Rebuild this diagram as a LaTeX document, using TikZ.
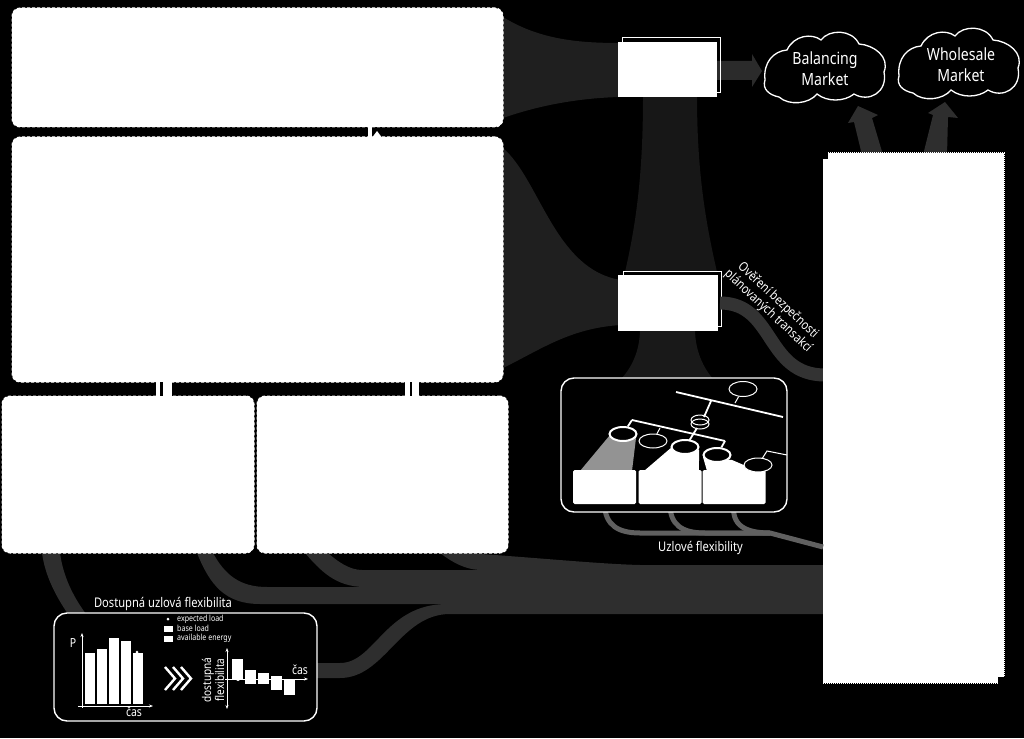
\documentclass[tikz,border=0pt]{standalone}
\usepackage{fontspec}
\setmainfont[FakeStretch=0.84]{Noto Sans}
\usetikzlibrary{arrows.meta, positioning, calc, shapes.geometric}

\tikzset{
  planbox/.style={fill=white, draw=white, densely dashed, line width=1pt, rounded corners=8pt, inner sep=0pt, outer sep=0pt},
  solidbox/.style={fill=white, inner sep=0pt, outer sep=0pt},
  stackbox/.style={draw=white, line width=1pt, inner sep=0pt, outer sep=0pt, minimum width=98pt, minimum height=55pt},
  sitebox/.style={fill=white, rounded corners=1.5pt, inner sep=0pt, outer sep=0pt, minimum width=63pt, minimum height=34pt},
  panelbox/.style={fill=black, draw=white, line width=1.4pt, rounded corners=13pt, inner sep=0pt, outer sep=0pt},
  busnode/.style={ellipse, draw=white, fill=black, line width=1pt, inner sep=0pt, minimum width=28pt, minimum height=14pt},
  feednode/.style={busnode, line width=2pt, minimum width=27pt},
  busline/.style={draw=white, line width=1.8pt},
  tapline/.style={draw=white, line width=1pt},
  sitepipe/.style={draw=gray!75!black, line width=5pt},
  chartaxis/.style={draw=white, line width=.7pt, {Stealth[length=4pt]}-{Stealth[length=4pt]}},
  labeltext/.style={text=white, font=\fontsize{13.3}{14}\selectfont, inner sep=0pt, align=center},
  smalltext/.style={text=white, font=\fontsize{8.4}{9}\selectfont, inner sep=0pt, anchor=west},
  pics/marketcloud/.style={code={
    \draw[white, line width=1.3pt, fill=black]
      (-59,13) .. controls (-61,-5) and (-50,-16) .. (-37,-17)
      .. controls (-30,-32) and (-12,-34) .. (-3,-27)
      .. controls (5,-38) and (28,-38) .. (35,-23)
      .. controls (50,-22) and (66,-10) .. (60,5)
      .. controls (64,25) and (45,36) .. (30,27)
      .. controls (20,35) and (3,35) .. (-7,27)
      .. controls (-15,37) and (-35,39) .. (-45,30)
      .. controls (-55,28) and (-62,22) .. (-59,13) -- cycle;
  }},
}

\begin{document}
\begin{tikzpicture}[x=1pt, y=-1pt]
  \useasboundingbox (0,0) rectangle (1024,738);
  \fill[black] (0,0) rectangle (1024,738);

  % ── Flows into the stacked boxes ──
  \fill[black!88] (503,17) .. controls (540,40) and (580,43) .. (620,43) -- (620,97) .. controls (580,98) and (540,105) .. (503,118) -- cycle;
  \fill[black!88] (503,148) .. controls (540,180) and (555,270) .. (621,280) -- (621,325) .. controls (570,328) and (540,350) .. (503,368) -- cycle;
  \fill[black!91] (643,96) -- (697,96) .. controls (697,170) and (705,220) .. (717,272) -- (625,272) .. controls (637,220) and (643,170) .. (643,96) -- cycle;
  \fill[black!90] (640,329) -- (695,329) .. controls (695,350) and (703,368) .. (714,380) -- (620,380) .. controls (632,368) and (640,350) .. (640,329) -- cycle;

  % ── Market arrows ──
  \fill[black!83] (716,61) -- (752,61) -- (752,54) -- (762,71) -- (752,87) -- (752,80) -- (716,80) -- cycle;
  \fill[black!82] (862,155) -- (854,122) -- (848,123) -- (858,106) -- (878,115) -- (872,118) -- (883,155) -- cycle;
  \fill[black!82] (923,155) -- (933,115) -- (928,113) -- (945,102) -- (958,118) -- (948,117) -- (947,155) -- cycle;

  % ── Flows into the market box ──
  \fill[black!82] (42,553) .. controls (45,575) and (55,595) .. (68,614) -- (86,614) .. controls (72,595) and (63,575) .. (60,553) -- cycle;
  \fill[black!82] (197,553) .. controls (210,585) and (225,604) .. (260,604) -- (825,604) -- (825,587) -- (267,587) .. controls (240,587) and (225,575) .. (213,553) -- cycle;
  \fill[black!82] (305,553) .. controls (320,570) and (335,587) .. (365,587) -- (825,587) -- (825,570) -- (362,570) .. controls (350,570) and (338,562) .. (328,553) -- cycle;
  \fill[black!82] (440,553) .. controls (452,562) and (465,570) .. (482,570) -- (825,570) -- (825,565) -- (640,565) .. controls (600,564) and (540,558) .. (467,553) -- cycle;
  \fill[black!82] (315,663) -- (340,663) .. controls (375,663) and (385,604) .. (447,604) -- (825,604) -- (825,614) -- (450,614) .. controls (400,614) and (385,678) .. (340,678) -- (315,678) -- cycle;

  % ── Plan boxes ──
  \node[planbox, minimum width=491pt, minimum height=119pt] (topplan) at (257.5,67.5) {};
  \node[planbox, minimum width=491pt, minimum height=245pt] (midplan) at (257.5,259.5) {};
  \node[planbox, minimum width=252pt, minimum height=157pt] (leftplan) at (128,474.5) {};
  \node[planbox, minimum width=251pt, minimum height=157pt] (rightplan) at (382.5,474.5) {};

  % ── Links between the plan boxes ──
  \fill[white] (155.5,380) rectangle (171.5,398);
  \fill[black] (159.5,382) rectangle (162.5,396);
  \fill[white] (405,380) rectangle (419,398);
  \fill[black] (409.5,382) rectangle (412,396);
  \fill[white] (368,125) rectangle (372,139);
  \fill[white] (371,139) -- (377,131) -- (383,139) -- cycle;

  % ── Stacked boxes ──
  \node[stackbox] (auctionback) at (671,65.5) {};
  \node[solidbox, minimum width=99pt, minimum height=55pt] (auctionbox) at (667,70) {};
  \node[stackbox] (checkback) at (672.5,298.5) {};
  \node[solidbox, minimum width=100pt, minimum height=56pt] (checkbox) at (668,303) {};

  % ── Clouds ──
  \pic at (824,67) {marketcloud};
  \node[labeltext, font=\fontsize{16.8}{21}\selectfont] (balancing) at (825,69) {Balancing\\Market};
  \pic at (958,63) {marketcloud};
  \node[labeltext, font=\fontsize{16.8}{21}\selectfont] (wholesale) at (961,65) {Wholesale\\Market};

  % ── Market box ──
  \coordinate (checkout) at (720,303);
  \coordinate (checkin) at (825,375);
  \draw[black!80, line width=13pt] (checkout) .. controls (775,303) and (765,375) .. (checkin);
  \node[solidbox, draw=white, densely dotted, line width=1pt, minimum width=181pt, minimum height=530pt] (marketbox) at (913.5,418) {};
  \fill[black] (821,151) rectangle (828,159);
  \fill[black] (998,677) rectangle (1006,685);
  \node[labeltext, font=\fontsize{13}{14.5}\selectfont, rotate=-43] (checktext) at (773,306) {Ověření bezpečnosti\\plánovaných transakcí};

  % ── Network panel ──
  \coordinate (sitejoin) at (770,533);
  \node[sitebox] (sitea) at (604.5,487) {};
  \node[sitebox] (siteb) at (670,487) {};
  \node[sitebox] (sitec) at (734,487) {};
  \draw[sitepipe] (sitea.south) .. controls (605,525) and (618,533) .. (640,533) -- (sitejoin);
  \draw[sitepipe] (siteb.south) .. controls (670,525) and (682,533) .. (705,533) -- (sitejoin);
  \draw[sitepipe] (sitec.south) .. controls (731,525) and (745,533) .. (sitejoin) -- (marketbox.west |- 0,547);
  \node[panelbox, minimum width=226pt, minimum height=134pt] (gridpanel) at (674,445) {};
  \fill[gray!85] (610,435) -- (580,471) -- (632,471) -- (636,438) -- cycle;
  \fill[white] (672,447) -- (644,471) -- (699,471) -- (699,450) -- cycle;
  \fill[white] (703,457) -- (707,471) -- (765,473) -- (763,466) -- (746,466) -- (732,460) -- cycle;
  \node[sitebox] (siteatop) at (604.5,487) {};
  \node[sitebox] (sitebtop) at (670,487) {};
  \node[sitebox] (sitectop) at (734,487) {};
  \fill[black] (699,461) rectangle (702,470);

  \node[busnode, minimum height=15pt] (bustop) at (743,389) {};
  \node[feednode] (feeda) at (623,434) {};
  \node[busnode] (feedb) at (653,441) {};
  \node[feednode] (feedc) at (685,447) {};
  \node[feednode] (feedd) at (717,455) {};
  \node[busnode] (feede) at (758,465) {};
  \coordinate (highl) at (676,392);
  \coordinate (highr) at (783,417);
  \coordinate (lowl) at (632,420);
  \coordinate (lowr) at (725,441);
  \draw[busline] (highl) -- (highr);
  \draw[tapline] (bustop) -- (735,403);
  \draw[busline] (711,401) -- (704,417);
  \draw[busline] (697,428) -- (689,441);
  \draw[busline] (lowl) -- (lowr);
  \draw[busline] (lowl) -- (feeda);
  \draw[tapline] (660,428) -- (feedb);
  \draw[busline] (lowr) -- (feedd);
  \draw[tapline] (feede) -- (767,451) -- (787,455);
  \node[ellipse, draw=white, line width=1pt, inner sep=0pt, minimum width=18pt, minimum height=10pt] (trafoa) at (700,420) {};
  \node[ellipse, draw=white, line width=1pt, inner sep=0pt, minimum width=18pt, minimum height=10pt] (trafob) at (700,424) {};

  \node[labeltext] (sitetext) at (700.5,548) {Uzlové flexibility};

  % ── Flexibility panel ──
  \node[labeltext] (flextext) at (163,604) {Dostupná uzlová flexibilita};
  \node[panelbox, minimum width=263pt, minimum height=108pt] (flexpanel) at (185.5,667) {};
  \fill[white] (168,619) circle (1.5);
  \node[smalltext] (expected) at (177,619) {expected load};
  \fill[white] (164,626) rectangle (173,632);
  \node[smalltext] (baseload) at (177,628.5) {base load};
  \fill[white] (164,636) rectangle (173,642);
  \node[smalltext] (available) at (177,638) {available energy};

  \draw[chartaxis, {Stealth[length=4pt]}-] (82,633) -- (82,708);
  \draw[chartaxis, -{Stealth[length=4pt]}] (78,706) -- (153,706);
  \foreach \x/\y in {85/653,97/649,109/638,121/641,133/653} {
    \fill[white] (\x,\y) rectangle (\x+10,704);
  }
  \fill[white] (137,652) circle (1.5);
  \node[labeltext, font=\fontsize{12.5}{13}\selectfont] (ptext) at (73,643) {P};
  \node[labeltext, font=\fontsize{12.5}{13}\selectfont] (timea) at (134,712) {čas};

  \foreach \x in {165,173,181} {
    \draw[white, line width=2.4pt] (\x,667) -- (\x+10,678.5) -- (\x,690);
  }

  \draw[chartaxis] (227,648) -- (227,709);
  \draw[chartaxis, -{Stealth[length=4pt]}] (225,679) -- (308,679);
  \foreach \x/\ya/\yb in {232/659/679,245/670/684,258/673/684,271/676/690,284/679/695} {
    \fill[white] (\x,\ya) rectangle (\x+11,\yb);
  }
  \fill[white] (238,679) circle (2);
  \node[labeltext, font=\fontsize{12}{10}\selectfont, rotate=90] (flexaxis) at (213,680) {dostupná\\flexibilita};
  \node[labeltext, font=\fontsize{12.5}{13}\selectfont] (timeb) at (300,670) {čas};
\end{tikzpicture}
\end{document}
